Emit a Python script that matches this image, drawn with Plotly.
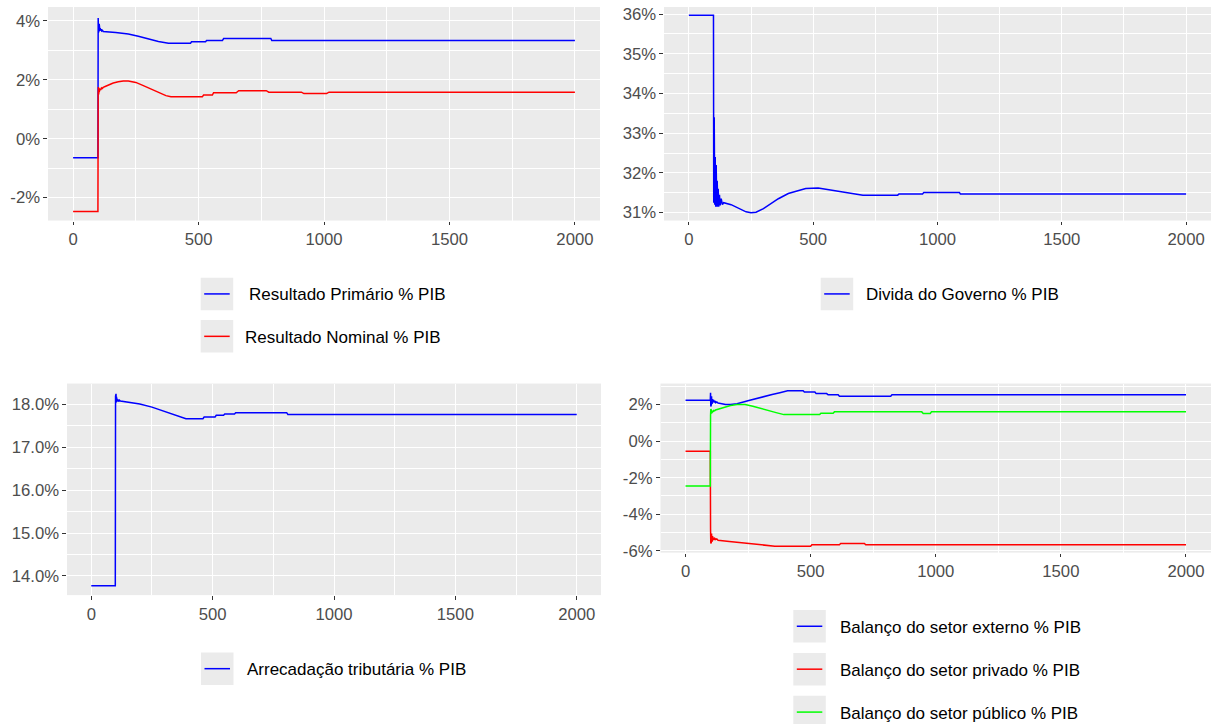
import plotly.graph_objects as go

# ---------------- data (percent of GDP) ----------------
# Panel 1: Resultado Primário / Nominal
t_prim = [0, 99, 100, 101, 102, 103, 104, 105, 106, 107, 108, 110, 112, 114, 117, 120, 170, 220, 260, 300, 340, 380, 468, 472, 528, 532, 595, 600, 788, 792, 2000]
v_prim = [-0.65, -0.65, 4.10, 3.60, 4.00, 3.65, 3.90, 3.68, 3.82, 3.66, 3.75, 3.68, 3.72, 3.66, 3.68, 3.64, 3.60, 3.55, 3.48, 3.39, 3.30, 3.24, 3.24, 3.29, 3.29, 3.33, 3.33, 3.40, 3.40, 3.33, 3.33]

t_nom = [0, 99, 100, 101, 102, 103, 104, 105, 106, 108, 110, 113, 116, 120, 130, 145, 160, 180, 200, 220, 250, 280, 310, 340, 370, 390, 515, 520, 555, 560, 650, 660, 770, 780, 910, 920, 1010, 1020, 2000]
v_nom = [-2.47, -2.47, 1.55, 1.75, 1.50, 1.72, 1.58, 1.70, 1.62, 1.70, 1.65, 1.72, 1.70, 1.74, 1.78, 1.84, 1.89, 1.93, 1.96, 1.96, 1.91, 1.80, 1.68, 1.56, 1.46, 1.42, 1.42, 1.48, 1.48, 1.56, 1.56, 1.63, 1.63, 1.58, 1.58, 1.53, 1.53, 1.58, 1.58]

# Panel 2: Divida do Governo
t_div = [0, 99, 100, 102, 104, 106, 108, 110, 112, 114, 116, 118, 120, 123, 126, 130, 135, 140, 170, 200, 230, 250, 270, 300, 330, 360, 400, 440, 470, 520, 560, 600, 650, 690, 700, 840, 845, 940, 945, 1088, 1092, 2000]
v_div = [35.97, 35.97, 31.25, 33.40, 31.20, 32.40, 31.15, 32.20, 31.15, 31.80, 31.15, 31.60, 31.15, 31.45, 31.18, 31.35, 31.20, 31.25, 31.20, 31.10, 31.02, 31.00, 31.01, 31.10, 31.22, 31.35, 31.48, 31.56, 31.61, 31.62, 31.58, 31.54, 31.49, 31.45, 31.44, 31.44, 31.47, 31.47, 31.51, 31.51, 31.47, 31.47]

# Panel 3: Arrecadação tributária
t_arr = [0, 99, 100, 101, 102, 103, 104, 105, 106, 108, 110, 113, 116, 120, 160, 200, 250, 300, 350, 390, 460, 465, 510, 515, 545, 550, 590, 595, 805, 810, 2000]
v_arr = [13.77, 13.77, 18.20, 18.05, 18.25, 18.05, 18.18, 18.06, 18.14, 18.08, 18.12, 18.07, 18.10, 18.08, 18.04, 18.01, 17.94, 17.85, 17.75, 17.67, 17.67, 17.71, 17.71, 17.75, 17.75, 17.78, 17.78, 17.81, 17.81, 17.77, 17.77]

# Panel 4: Balanços setoriais
t_ext = [0, 99, 100, 101, 102, 103, 104, 105, 106, 107, 108, 110, 112, 114, 117, 120, 125, 130, 145, 160, 180, 206, 253, 300, 346, 377, 408, 470, 475, 517, 522, 564, 570, 610, 615, 820, 825, 2000]
v_ext = [2.24, 2.24, 2.64, 1.90, 2.55, 1.98, 2.45, 2.05, 2.38, 2.08, 2.30, 2.12, 2.25, 2.12, 2.20, 2.10, 2.14, 2.08, 2.04, 2.00, 2.01, 2.05, 2.22, 2.40, 2.55, 2.65, 2.76, 2.76, 2.69, 2.69, 2.60, 2.60, 2.53, 2.53, 2.45, 2.45, 2.53, 2.53]

t_priv = [0, 99, 100, 101, 102, 103, 104, 105, 106, 107, 108, 110, 112, 114, 117, 120, 125, 130, 175, 238, 290, 357, 500, 505, 615, 620, 715, 720, 2000]
v_priv = [-0.55, -0.55, -4.80, -5.60, -4.95, -5.55, -5.05, -5.50, -5.15, -5.45, -5.20, -5.42, -5.28, -5.40, -5.32, -5.38, -5.35, -5.42, -5.49, -5.58, -5.67, -5.75, -5.75, -5.67, -5.67, -5.60, -5.60, -5.67, -5.67]

t_pub = [0, 99, 100, 101, 102, 103, 104, 105, 106, 108, 110, 113, 116, 120, 128, 140, 160, 180, 206, 238, 269, 300, 331, 362, 393, 536, 541, 590, 595, 944, 950, 978, 983, 2000]
v_pub = [-2.45, -2.45, 1.40, 1.75, 1.45, 1.70, 1.50, 1.68, 1.55, 1.65, 1.60, 1.68, 1.66, 1.70, 1.73, 1.80, 1.89, 1.95, 2.00, 2.00, 1.91, 1.78, 1.67, 1.56, 1.45, 1.45, 1.53, 1.53, 1.60, 1.60, 1.51, 1.51, 1.60, 1.60]

x_ticks = [0, 500, 1000, 1500, 2000]

lbl_prim = "Resultado Primário % PIB"
lbl_nom = "Resultado Nominal % PIB"
lbl_div = "Divida do Governo % PIB"
lbl_arr = "Arrecadação tributária % PIB"
lbl_ext = "Balanço do setor externo % PIB"
lbl_priv = "Balanço do setor privado % PIB"
lbl_pub = "Balanço do setor público % PIB"

# ---------------- layout helpers ----------------
W, H = 1220, 724
VS = 1.012
FONT = "Arial, 'Liberation Sans', sans-serif"
BG = "#EBEBEB"


def fx(px):
    return px / W


def fy(py):
    return 1 - py * VS / H


fig = go.Figure()

LW = 1.5


def add_line(t, v, color, name, ax):
    fig.add_trace(go.Scatter(
        x=t, y=v, mode="lines", name=name,
        line=dict(color=color, width=LW),
        xaxis="x" + ("" if ax == 1 else str(ax)),
        yaxis="y" + ("" if ax == 1 else str(ax)),
        showlegend=False, hoverinfo="x+y",
    ))


add_line(t_prim, v_prim, "#0000FF", lbl_prim, 1)
add_line(t_nom, v_nom, "#FF0000", lbl_nom, 1)
add_line(t_div, v_div, "#0000FF", lbl_div, 2)
add_line(t_arr, v_arr, "#0000FF", lbl_arr, 3)
add_line(t_ext, v_ext, "#0000FF", lbl_ext, 4)
add_line(t_priv, v_priv, "#FF0000", lbl_priv, 4)
add_line(t_pub, v_pub, "#00FF00", lbl_pub, 4)

tickfont = dict(family=FONT, size=16.7, color="#4D4D4D")


def xax(domain, anchor):
    return dict(
        domain=domain, anchor=anchor, range=[-100, 2100],
        tickvals=x_ticks, ticktext=[str(v) for v in x_ticks],
        showgrid=True, gridcolor="white", gridwidth=1.4,
        minor=dict(tickvals=[250, 750, 1250, 1750], showgrid=True, gridcolor="white", gridwidth=0.7, ticks=""),
        zeroline=False, showline=False,
        ticks="outside", ticklen=3.6, tickwidth=1.1, tickcolor="#333333",
        tickfont=tickfont, fixedrange=True,
    )


def yax(domain, anchor, rng, vals, minor_vals, fmt):
    return dict(
        domain=domain, anchor=anchor, range=rng,
        tickvals=vals, ticktext=[fmt.format(v) for v in vals],
        showgrid=True, gridcolor="white", gridwidth=1.4,
        minor=dict(tickvals=minor_vals, showgrid=True, gridcolor="white", gridwidth=0.7, ticks=""),
        zeroline=False, showline=False,
        ticks="outside", ticklen=3.6, tickwidth=1.1, tickcolor="#333333",
        tickfont=tickfont, fixedrange=True,
    )


p1 = dict(x0=48, x1=600, y0=5, y1=219)
p2 = dict(x0=664, x1=1211, y0=5, y1=219)
p3 = dict(x0=67, x1=601, y0=382.3, y1=594.3)
p4 = dict(x0=660.5, x1=1211, y0=382.3, y1=551.7)

layout = dict(
    width=W, height=H, margin=dict(l=0, r=0, t=0, b=0),
    paper_bgcolor="white", plot_bgcolor=BG, showlegend=False,
    font=dict(family=FONT),
    xaxis=xax([fx(p1["x0"]), fx(p1["x1"])], "y"),
    yaxis=yax([fy(p1["y1"]), fy(p1["y0"])], "x", [-2.78, 4.47], [-2, 0, 2, 4], [-3, -1, 1, 3], "{:d}%"),
    xaxis2=xax([fx(p2["x0"]), fx(p2["x1"])], "y2"),
    yaxis2=yax([fy(p2["y1"]), fy(p2["y0"])], "x2", [30.8, 36.18], [31, 32, 33, 34, 35, 36], [30.5, 31.5, 32.5, 33.5, 34.5, 35.5], "{:d}%"),
    xaxis3=xax([fx(p3["x0"]), fx(p3["x1"])], "y3"),
    yaxis3=yax([fy(p3["y1"]), fy(p3["y0"])], "x3", [13.55, 18.49], [14, 15, 16, 17, 18], [13.5, 14.5, 15.5, 16.5, 17.5], "{:.1f}%"),
    xaxis4=xax([fx(p4["x0"]), fx(p4["x1"])], "y4"),
    yaxis4=yax([fy(p4["y1"]), fy(p4["y0"])], "x4", [-6.1, 3.15], [-6, -4, -2, 0, 2], [-5, -3, -1, 1, 3], "{:d}%"),
)
fig.update_layout(**layout)

# ---------------- ggplot-style legends (key boxes + text) ----------------
KEY = 32.5
shapes = []
annotations = []


def legend_item(kx, cy, color, text, text_dx=12.3):
    shapes.append(dict(type="rect", xref="paper", yref="paper",
                       x0=fx(kx), x1=fx(kx + KEY), y0=fy(cy + KEY / 2), y1=fy(cy - KEY / 2),
                       fillcolor=BG, line=dict(width=0), layer="below"))
    shapes.append(dict(type="line", xref="paper", yref="paper",
                       x0=fx(kx + 3.5), x1=fx(kx + KEY - 3.5), y0=fy(cy), y1=fy(cy),
                       line=dict(color=color, width=LW)))
    annotations.append(dict(xref="paper", yref="paper", x=fx(kx + KEY + text_dx), y=fy(cy + 1),
                            text=text, showarrow=False, xanchor="left", yanchor="middle",
                            borderpad=0, font=dict(family=FONT, size=17, color="black")))


legend_item(200.7, 292.5, "#0000FF", lbl_prim, text_dx=14.5)
legend_item(200.7, 335.0, "#FF0000", lbl_nom, text_dx=10.5)
legend_item(820.7, 292.5, "#0000FF", lbl_div)
legend_item(201.0, 668.0, "#0000FF", lbl_arr)
legend_item(793.3, 625.5, "#0000FF", lbl_ext, text_dx=13.5)
legend_item(793.3, 668.5, "#FF0000", lbl_priv, text_dx=13.5)
legend_item(793.3, 711.5, "#00FF00", lbl_pub, text_dx=13.5)

fig.update_layout(shapes=shapes, annotations=annotations)

fig.write_html("out.html")
